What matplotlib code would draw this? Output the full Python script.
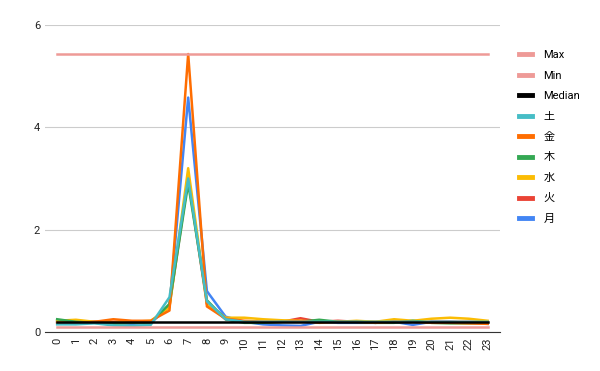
import matplotlib
matplotlib.use("Agg")
import matplotlib.pyplot as plt

plt.rcParams['font.family'] = ['Roboto', 'Noto Sans CJK JP', 'DejaVu Sans']

hours = list(range(24))
max_val = [5.43] * 24
min_val = [0.09] * 24
median = [0.2] * 24
sat = [0.15, 0.15, 0.17, 0.13, 0.12, 0.14, 0.68, 3.0, 0.6, 0.25, 0.2, 0.2,
       0.2, 0.2, 0.2, 0.2, 0.2, 0.2, 0.2, 0.2, 0.2, 0.2, 0.2, 0.2]
fri = [0.18, 0.17, 0.2, 0.25, 0.22, 0.22, 0.42, 5.43, 0.5, 0.26, 0.22, 0.2,
       0.2, 0.22, 0.18, 0.2, 0.2, 0.18, 0.2, 0.2, 0.18, 0.18, 0.17, 0.16]
thu = [0.25, 0.2, 0.18, 0.16, 0.18, 0.18, 0.55, 2.9, 0.62, 0.25, 0.18, 0.18,
       0.2, 0.2, 0.24, 0.2, 0.2, 0.18, 0.18, 0.22, 0.18, 0.17, 0.17, 0.18]
wed = [0.22, 0.24, 0.2, 0.18, 0.2, 0.22, 0.48, 3.2, 0.55, 0.28, 0.28, 0.25,
       0.23, 0.22, 0.2, 0.2, 0.22, 0.2, 0.25, 0.22, 0.26, 0.28, 0.26, 0.22]
tue = [0.2, 0.18, 0.2, 0.2, 0.2, 0.2, 0.5, 3.0, 0.55, 0.25, 0.2, 0.2,
       0.2, 0.27, 0.2, 0.22, 0.2, 0.2, 0.2, 0.2, 0.2, 0.2, 0.2, 0.2]
mon = [0.2, 0.2, 0.2, 0.18, 0.16, 0.18, 0.5, 4.58, 0.8, 0.3, 0.2, 0.15,
       0.13, 0.12, 0.2, 0.18, 0.18, 0.18, 0.2, 0.14, 0.2, 0.2, 0.18, 0.16]

series = [
    ("Max", max_val, "#ee9a97"),
    ("Min", min_val, "#ee9a97"),
    ("Median", median, "#000000"),
    ("土", sat, "#46bdc6"),
    ("金", fri, "#ff6d01"),
    ("木", thu, "#34a853"),
    ("水", wed, "#fbbc04"),
    ("火", tue, "#ea4335"),
    ("月", mon, "#4285f4"),
]

fig = plt.figure(figsize=(6, 3.71), dpi=100)
ax = fig.add_axes([0.075, 0.105, 0.758, 0.828])

# later legend entries drawn underneath, like the original
handles = {}
for i, (name, vals, col) in enumerate(reversed(series)):
    h, = ax.plot(hours, vals, color=col, lw=1.8, zorder=2 + i)
    handles[name] = h

ax.set_xlim(-0.65, 23.65)
ax.set_ylim(0, 6)
ax.set_yticks([0, 2, 4, 6])
ax.set_xticks(hours)
ax.set_xticklabels([str(h) for h in hours], rotation=90)
ax.tick_params(axis='both', length=0, labelsize=8, colors='#222222')
ax.tick_params(axis='x', pad=4)
ax.grid(axis='y', color='#cccccc', lw=0.8)
ax.set_axisbelow(True)
for s in ['top', 'right', 'left']:
    ax.spines[s].set_visible(False)
ax.spines['bottom'].set_color('#333333')

leg = ax.legend([handles[s[0]] for s in series], [s[0] for s in series],
                loc='upper left', bbox_to_anchor=(1.02, 0.95), frameon=False,
                fontsize=8, handlelength=1.2, labelspacing=0.94, handletextpad=1.0)
for line in leg.get_lines():
    line.set_linewidth(3.5)

fig.savefig("out.png", dpi=100)
